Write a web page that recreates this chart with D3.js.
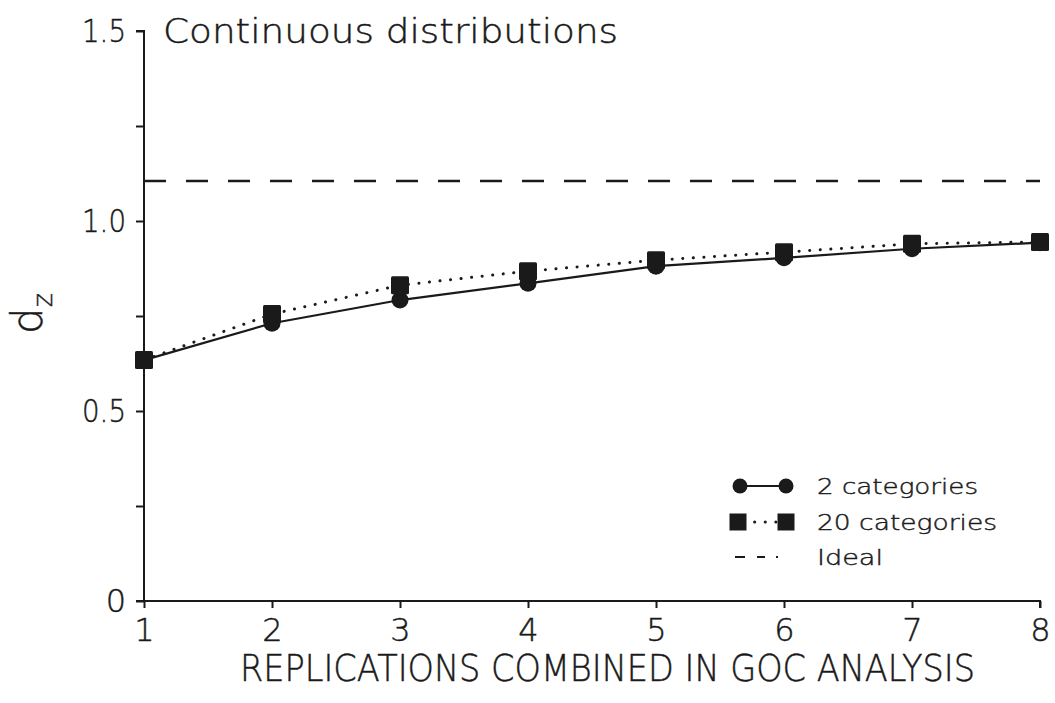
<!DOCTYPE html>
<html>
<head>
<meta charset="utf-8">
<script src="https://cdn.jsdelivr.net/npm/d3@7"></script>
<style>
  html, body { margin: 0; padding: 0; background: #fff; }
  svg text { font-family: "DejaVu Sans", sans-serif; font-weight: 200; fill: #1a1a1a; stroke: #1a1a1a; stroke-width: 0.45px; }
</style>
</head>
<body>
<svg id="chart" width="1055" height="703"></svg>
<script>
// ---- data ----
const replications = [1, 2, 3, 4, 5, 6, 7, 8];
const twoCategories = [0.634, 0.731, 0.792, 0.836, 0.881, 0.903, 0.927, 0.943];
const twentyCategories = [0.634, 0.755, 0.831, 0.868, 0.897, 0.918, 0.940, 0.945];
const idealValue = 1.105;
const yTickValues = [0, 0.25, 0.5, 0.75, 1.0, 1.25, 1.5];
const yTickLabels = ["0", "", "0.5", "", "1.0", "", "1.5"];
const xTickLabels = ["1", "2", "3", "4", "5", "6", "7", "8"];
const seriesNames = ["2 categories", "20 categories", "Ideal"];
const chartTitle = "Continuous distributions";
const xTitle = "REPLICATIONS COMBINED IN GOC ANALYSIS";

const ink = "#1a1a1a";
const fontFam = "DejaVu Sans";
const svg = d3.select("#chart");

const x = d3.scaleLinear().domain([1, 8]).range([144, 1040]);
const y = d3.scaleLinear().domain([0, 1.5]).range([601, 31]);

// ---- axes ----
const yAxis = d3.axisLeft(y)
  .tickValues(yTickValues)
  .tickSize(8)
  .tickPadding(10)
  .tickFormat((d, i) => yTickLabels[i]);
const gy = svg.append("g").attr("transform", `translate(${x(1)},0)`).call(yAxis);
gy.select(".domain").attr("stroke", ink).attr("stroke-width", 2).attr("d", `M-8,${y(1.5)}H0V${y(0)}`);
gy.selectAll(".tick line").attr("stroke", ink).attr("stroke-width", 2);
gy.selectAll(".tick text")
  .attr("font-size", 32)
  .attr("font-family", fontFam)
  .attr("font-weight", 200)
  .attr("fill", ink)
  .each(function(d, i) {
    if (yTickLabels[i].length === 3) d3.select(this).attr("textLength", 44).attr("lengthAdjust", "spacingAndGlyphs");
  });

const xAxis = d3.axisBottom(x)
  .tickValues(replications)
  .tickSize(7)
  .tickPadding(10)
  .tickFormat((d, i) => xTickLabels[i]);
const gx = svg.append("g").attr("transform", `translate(0,${y(0)})`).call(xAxis);
gx.select(".domain").attr("stroke", ink).attr("stroke-width", 2).attr("d", `M${x(1) - 8},0H${x(8)}V7`);
gx.selectAll(".tick line").attr("stroke", ink).attr("stroke-width", 2);
gx.selectAll(".tick text").attr("font-size", 32).attr("font-family", fontFam).attr("font-weight", 200).attr("fill", ink);

// ---- titles ----
svg.append("text")
  .attr("x", 163).attr("y", 43)
  .attr("font-size", 33)
  .attr("textLength", 455).attr("lengthAdjust", "spacingAndGlyphs")
  .text(chartTitle);

svg.append("text")
  .attr("x", 240).attr("y", 681)
  .attr("font-size", 37)
  .attr("textLength", 735).attr("lengthAdjust", "spacingAndGlyphs")
  .text(xTitle);

const yl = svg.append("text")
  .attr("transform", "translate(42,334) rotate(-90)")
  .attr("font-size", 42);
yl.append("tspan").text("d");
yl.append("tspan").attr("font-size", 27).attr("dy", 10).text("z");

// ---- ideal dashed line ----
svg.append("line")
  .attr("x1", x(1)).attr("x2", x(8))
  .attr("y1", y(idealValue)).attr("y2", y(idealValue))
  .attr("stroke", ink).attr("stroke-width", 2.5)
  .attr("stroke-dasharray", "22,20");

// ---- series lines ----
const pts2 = replications.map((r, i) => [x(r), y(twoCategories[i])]);
const pts20 = replications.map((r, i) => [x(r), y(twentyCategories[i])]);
const line = d3.line();

svg.append("path").attr("d", line(pts2))
  .attr("fill", "none").attr("stroke", ink).attr("stroke-width", 2.2);
svg.append("path").attr("d", line(pts20))
  .attr("fill", "none").attr("stroke", ink).attr("stroke-width", 3)
  .attr("stroke-linecap", "round")
  .attr("stroke-dasharray", "0.1,10.5");

// ---- markers ----
svg.append("g").selectAll("circle").data(pts2).join("circle")
  .attr("cx", d => d[0]).attr("cy", d => d[1]).attr("r", 8.5).attr("fill", ink);
svg.append("g").selectAll("rect").data(pts20).join("rect")
  .attr("x", d => d[0] - 9).attr("y", d => d[1] - 9)
  .attr("width", 18).attr("height", 18).attr("rx", 1.5).attr("fill", ink);

// ---- legend ----
const legY = [486, 522, 557];
const lx1 = 740, lx2 = 786, ltx = 817;
const leg = svg.append("g");
leg.append("line").attr("x1", lx1).attr("x2", lx2).attr("y1", legY[0]).attr("y2", legY[0])
  .attr("stroke", ink).attr("stroke-width", 2.2);
leg.selectAll("circle.l").data([lx1, lx2]).join("circle")
  .attr("cx", d => d).attr("cy", legY[0]).attr("r", 7.5).attr("fill", ink);
leg.append("line").attr("x1", lx1).attr("x2", lx2).attr("y1", legY[1]).attr("y2", legY[1])
  .attr("stroke", ink).attr("stroke-width", 3).attr("stroke-linecap", "round")
  .attr("stroke-dasharray", "0.1,10.5").attr("stroke-dashoffset", -4);
leg.selectAll("rect.l").data([lx1 - 2, lx2]).join("rect")
  .attr("x", d => d - 8.5).attr("y", legY[1] - 8.5).attr("width", 17).attr("height", 17).attr("fill", ink);
leg.append("line").attr("x1", lx1 - 5).attr("x2", lx2 + 1).attr("y1", legY[2]).attr("y2", legY[2])
  .attr("stroke", ink).attr("stroke-width", 2.2)
  .attr("stroke-dasharray", "10,12,8,11,2,100");
const legLen = [161, 180, 66];
leg.selectAll("text").data(seriesNames).join("text")
  .attr("x", ltx).attr("y", (d, i) => legY[i] + 8)
  .attr("font-size", 22)
  .attr("textLength", (d, i) => legLen[i]).attr("lengthAdjust", "spacingAndGlyphs")
  .text(d => d);
</script>
</body>
</html>
